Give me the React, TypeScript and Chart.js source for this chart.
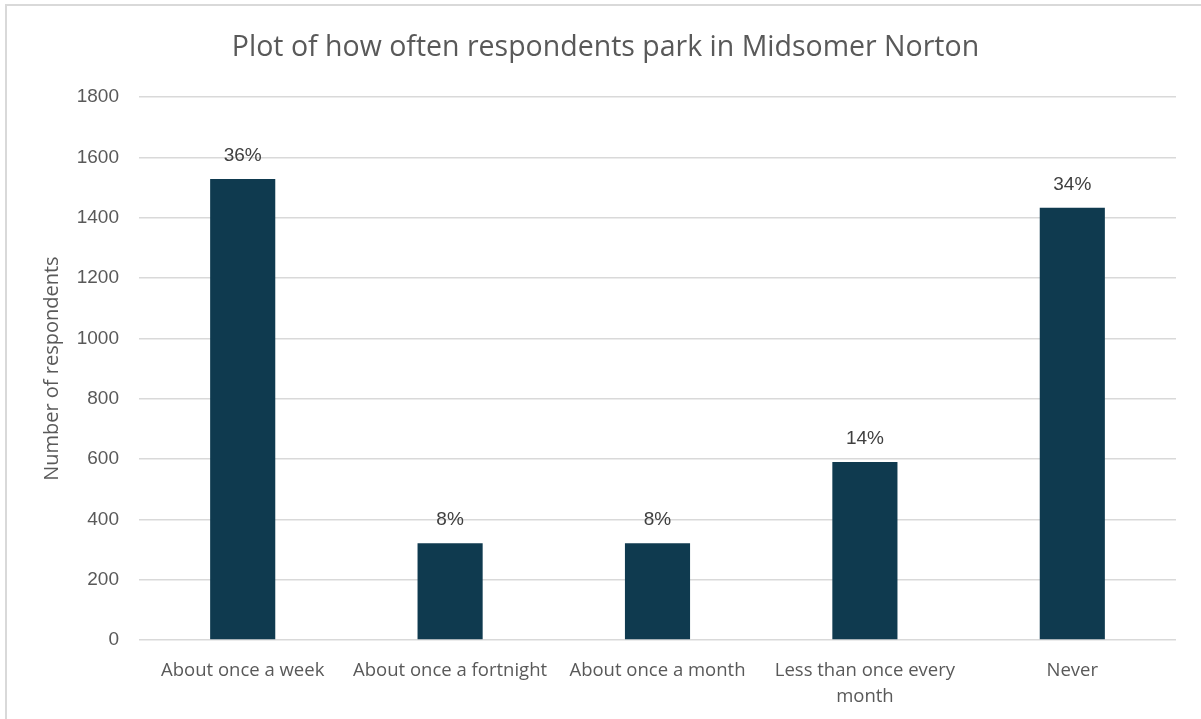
import React, { useEffect, useRef } from "react";
import { Chart, registerables } from "chart.js";

Chart.register(...registerables);

const categories: (string | string[])[] = [
  "About once a week",
  "About once a fortnight",
  "About once a month",
  ["Less than once every", "month"],
  "Never",
];
const respondents = [1529, 321, 321, 590, 1433];
const percentLabels = ["36%", "8%", "8%", "14%", "34%"];
const yTicks = { min: 0, max: 1800, step: 200 };

const titleText = "Plot of how often respondents park in Midsomer Norton";
const yAxisTitle = "Number of respondents";

const dataLabelPlugin = {
  id: "dataLabels",
  afterDatasetsDraw(chart: any) {
    const ctx = chart.ctx;
    const meta = chart.getDatasetMeta(0);
    ctx.save();
    ctx.font = "19px 'Liberation Sans', Arial, sans-serif";
    ctx.fillStyle = "#404040";
    ctx.textAlign = "center";
    ctx.textBaseline = "middle";
    meta.data.forEach((bar: any, i: number) => {
      ctx.fillText(percentLabels[i], bar.x, bar.y - 23);
    });
    ctx.restore();
  },
};

export default function App() {
  const canvasRef = useRef<HTMLCanvasElement | null>(null);

  useEffect(() => {
    if (!canvasRef.current) return;
    const chart = new Chart(canvasRef.current, {
      type: "bar",
      data: {
        labels: categories,
        datasets: [
          {
            data: respondents,
            backgroundColor: "#0F3A4F",
            borderWidth: 0,
            categoryPercentage: 1,
            barPercentage: 0.314,
          },
        ],
      },
      options: {
        animation: false,
        responsive: false,
        maintainAspectRatio: false,
        layout: { padding: { left: 10, right: 0, top: 0, bottom: 0 } },
        plugins: {
          legend: { display: false },
          tooltip: { enabled: false },
          title: {
            display: true,
            text: titleText,
            color: "#595959",
            font: { family: "'Open Sans', sans-serif", size: 28.5, weight: "normal" },
            padding: { top: 31, bottom: 32 },
          },
        },
        scales: {
          x: {
            grid: { display: false, drawTicks: false },
            border: { display: false },
            ticks: {
              color: "#595959",
              font: { family: "'Open Sans', sans-serif", size: 18.5, lineHeight: 1.4 },
              padding: 18,
              maxRotation: 0,
              autoSkip: false,
            },
            afterFit: (scale: any) => {
              scale.height = 79;
            },
          },
          y: {
            min: yTicks.min,
            max: yTicks.max,
            grid: { color: "#D9D9D9", lineWidth: 1.5, drawTicks: false },
            border: { display: false },
            ticks: {
              stepSize: yTicks.step,
              color: "#595959",
              font: { family: "'Liberation Sans', Arial, sans-serif", size: 19 },
              padding: 20,
              callback: (v: any) => String(v),
            },
            title: {
              display: true,
              text: yAxisTitle,
              color: "#595959",
              font: { family: "'Open Sans', sans-serif", size: 20 },
              padding: { top: 30, bottom: 0 },
            },
            afterFit: (scale: any) => {
              scale.width = 129;
            },
          },
          yRight: {
            position: "right",
            display: true,
            grid: { display: false, drawTicks: false },
            border: { display: false },
            ticks: { display: false },
            afterFit: (scale: any) => {
              scale.width = 25;
            },
          },
        },
      },
      plugins: [dataLabelPlugin],
    });
    return () => chart.destroy();
  }, []);

  return (
    <div
      style={{
        position: "absolute",
        left: 0,
        top: 0,
        width: 1201,
        height: 719,
        background: "#ffffff",
        overflow: "hidden",
      }}
    >
      <canvas ref={canvasRef} width={1201} height={719} style={{ position: "absolute", left: 0, top: 0 }} />
      <div
        style={{
          position: "absolute",
          left: 5,
          top: 4,
          right: 0,
          bottom: 0,
          borderTop: "2px solid #D9D9D9",
          borderLeft: "2px solid #D9D9D9",
          pointerEvents: "none",
        }}
      />
    </div>
  );
}
